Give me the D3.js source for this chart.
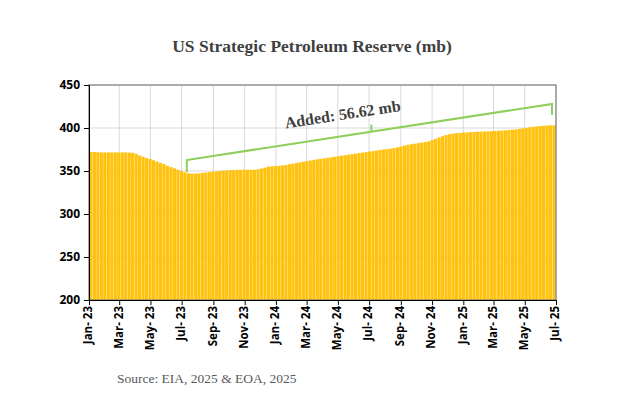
<!DOCTYPE html>
<html>
<head>
<meta charset="utf-8">
<script src="https://cdn.jsdelivr.net/npm/d3@7"></script>
<style>
  body { margin: 0; background: #fff; }
</style>
</head>
<body>
<svg id="chart" width="624" height="410"></svg>
<script>
// Weekly SPR stocks (million barrels), first week of Jan 2023 to early Jul 2025
const startDate = new Date(2023, 0, 6);
const values = [
  372.2, 372.0, 371.8, 371.6, 371.6,
  371.6, 371.5, 371.6, 371.6,
  371.6, 371.6, 371.4, 371.2, 370.0,
  368.0, 366.5, 365.0, 364.0,
  362.5, 361.0, 359.5, 358.0, 356.0,
  354.5, 353.0, 351.5, 350.0,
  348.5, 347.5, 347.0, 347.1, 347.2,
  347.8, 348.3, 348.8, 349.2,
  349.6, 350.0, 350.3, 350.6,
  351.0, 351.2, 351.3, 351.4, 351.5,
  351.6, 351.4, 351.5, 352.0,
  353.0, 354.0, 355.0, 355.5, 355.8,
  356.0, 356.5, 357.0, 357.8,
  358.5, 359.2, 360.0, 360.8,
  361.5, 362.2, 362.9, 363.6, 364.2,
  364.8, 365.4, 366.0, 366.6,
  367.2, 367.8, 368.4, 369.0, 369.6,
  370.2, 370.8, 371.4, 372.0,
  372.6, 373.2, 373.8, 374.4,
  375.0, 375.5, 376.0, 376.6, 377.5,
  378.5, 379.5, 380.5, 381.2,
  381.8, 382.4, 383.0, 383.6,
  384.5, 386.0, 387.5, 389.0, 390.5,
  391.8, 392.8, 393.5, 394.0,
  394.3, 394.6, 394.9, 395.2,
  395.4, 395.6, 395.8, 396.0,
  396.2, 396.4, 396.6, 396.8, 397.0,
  397.3, 397.6, 398.0, 398.4,
  399.0, 399.6, 400.2, 400.8, 401.3,
  401.8, 402.2, 402.6, 402.9,
  403.0, 403.1
];
const dates = values.map((v, i) => d3.timeDay.offset(startDate, i * 7));
const yTicks = [200, 250, 300, 350, 400, 450];
const xTickDates = d3.range(16).map(i => new Date(2023, i * 2, 1));
const addedLabel = 'Added: 56.62 mb';
const bracketValues = [362.8, 428.0]; // left / right ends of the bracket

const margin = { top: 85, right: 68, bottom: 110, left: 89 };
const width = 624 - margin.left - margin.right;
const height = 410 - margin.top - margin.bottom;

const svg = d3.select('#chart');
const g = svg.append('g').attr('transform', `translate(${margin.left},${margin.top})`);

const x = d3.scaleBand()
  .domain(d3.range(values.length))
  .range([0, width])
  .padding(0.08);

const xTime = d3.scaleTime()
  .domain([new Date(2023, 0, 1), new Date(2025, 6, 1)])
  .range([0, width]);

const y = d3.scaleLinear().domain([200, 450]).range([height, 0]);

// Grid
g.append('g')
  .selectAll('line.h')
  .data(yTicks)
  .join('line')
  .attr('x1', 0).attr('x2', width)
  .attr('y1', d => y(d)).attr('y2', d => y(d))
  .style('stroke', '#d9d9d9');

g.append('g')
  .selectAll('line.v')
  .data(xTickDates)
  .join('line')
  .attr('x1', d => xTime(d)).attr('x2', d => xTime(d))
  .attr('y1', 0).attr('y2', height)
  .style('stroke', '#d9d9d9');

// Bars
g.append('g')
  .selectAll('rect')
  .data(values)
  .join('rect')
  .attr('x', (d, i) => x(i))
  .attr('y', d => y(d))
  .attr('width', x.bandwidth())
  .attr('height', d => height - y(d))
  .style('fill', '#ffc20e');

// Frame
g.append('rect')
  .attr('width', width).attr('height', height)
  .style('fill', 'none')
  .style('stroke', '#7f7f7f')
  .style('stroke-width', 1.2);

// Axes
const yAxis = g.append('g')
  .call(d3.axisLeft(y).tickValues(yTicks).tickSize(5).tickPadding(4));
yAxis.selectAll('text')
  .style('font-family', '"Open Sans", sans-serif')
  .style('font-weight', 'bold')
  .style('font-size', '12px')
  .style('fill', '#000');
yAxis.select('.domain').style('stroke', '#000');

const xAxis = g.append('g')
  .attr('transform', `translate(0,${height})`)
  .call(d3.axisBottom(xTime).tickValues(xTickDates).tickSize(5)
    .tickFormat(d => d3.timeFormat('%b- %y')(d)));
xAxis.select('.domain').style('stroke', '#000');
xAxis.selectAll('text')
  .attr('transform', 'rotate(-90)')
  .attr('text-anchor', 'end')
  .attr('dx', '-6')
  .attr('dy', '-0.45em')
  .style('font-family', '"Open Sans", sans-serif')
  .style('font-weight', 'bold')
  .style('font-size', '11.5px')
  .style('fill', '#000');

// Bracket annotation
const lowIdx = values.indexOf(d3.min(values));
const x1 = x(lowIdx - 1), x2 = width - 4;
const y1 = y(bracketValues[0]), y2 = y(bracketValues[1]);
const green = '#8ccf5a';
g.append('path')
  .attr('d', `M${x1},${y1 + 12} L${x1},${y1} L${x2},${y2} L${x2},${y2 + 11}`)
  .style('fill', 'none').style('stroke', green).style('stroke-width', 2);
const mx = (x1 + x2) / 2 + 2, my = y1 + (y2 - y1) * ((mx - x1) / (x2 - x1));
g.append('line')
  .attr('x1', mx).attr('x2', mx).attr('y1', my).attr('y2', my - 7)
  .style('stroke', green).style('stroke-width', 2);
const ang = Math.atan2(y2 - y1, x2 - x1) * 180 / Math.PI;
g.append('text')
  .attr('transform', `translate(${mx - 28},${my - 12}) rotate(${ang})`)
  .attr('text-anchor', 'middle')
  .style('font-family', '"Liberation Serif", serif')
  .style('font-weight', 'bold')
  .style('font-size', '16px')
  .style('fill', '#404040')
  .text(addedLabel);

// Title and source
svg.append('text')
  .attr('x', 312).attr('y', 52)
  .attr('text-anchor', 'middle')
  .style('font-family', '"Liberation Serif", serif')
  .style('font-weight', 'bold')
  .style('font-size', '17.5px')
  .style('fill', '#404040')
  .text('US Strategic Petroleum Reserve (mb)');

svg.append('text')
  .attr('x', 117).attr('y', 383)
  .style('font-family', '"Liberation Serif", serif')
  .style('font-size', '13.5px')
  .style('fill', '#595959')
  .text('Source: EIA, 2025 & EOA, 2025');
</script>
</body>
</html>
